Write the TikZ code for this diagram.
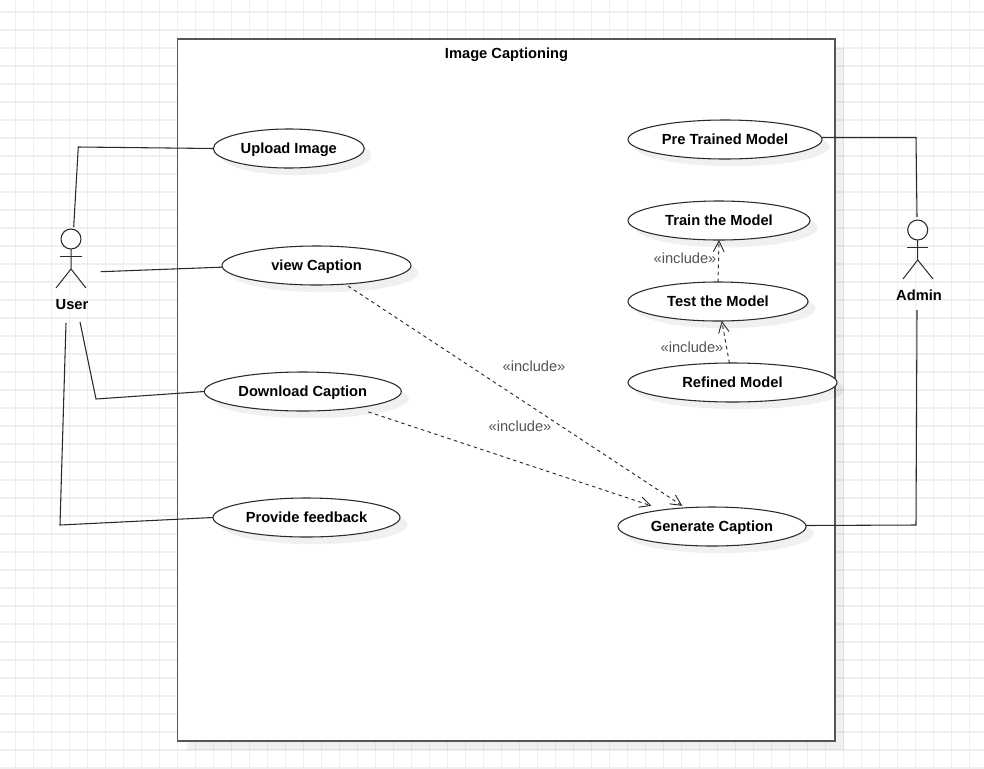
\documentclass[tikz,border=0pt]{standalone}
\usepackage{fontspec}
\setmainfont{Liberation Sans}
\usetikzlibrary{shapes.geometric,shadows,arrows.meta}
\definecolor{gridc}{HTML}{EFEFEF}
\definecolor{linec}{HTML}{2A2A2A}
\definecolor{boxc}{HTML}{555555}
\definecolor{labelc}{HTML}{555555}
\tikzset{
  x=0.75pt,y=-0.75pt,
  gridline/.style={gridc,line width=1.2pt},
  softshadow/.style={drop shadow={shadow xshift=5.6pt,shadow yshift=-5.4pt,opacity=0.06,fill=black}},
  boxshadow/.style={drop shadow={shadow xshift=6.75pt,shadow yshift=-6.75pt,opacity=0.06,fill=black}},
  usecase/.style={ellipse,draw=linec,fill=white,line width=0.8pt,inner sep=0pt,outer sep=0pt,minimum height=29.25pt,text height=7.5pt,text depth=0pt,font=\bfseries\fontsize{11pt}{13pt}\selectfont,softshadow},
  systembox/.style={rectangle,draw=boxc,fill=white,line width=1.1pt,inner sep=0pt,outer sep=0pt,minimum width=493pt,minimum height=526.5pt,boxshadow},
  boxtitle/.style={font=\bfseries\fontsize{11pt}{13pt}\selectfont,text height=7.9pt,text depth=0pt,inner sep=0pt},
  actorhead/.style={circle,draw=linec,fill=white,line width=0.8pt,inner sep=0pt,outer sep=0pt,minimum size=15pt},
  actorname/.style={font=\bfseries\fontsize{11pt}{13pt}\selectfont,text height=7.9pt,text depth=0pt,inner sep=0pt},
  limb/.style={linec,line width=0.75pt},
  assoc/.style={linec,line width=0.8pt},
  incl/.style={linec,line width=0.7pt,dash pattern=on 2.6pt off 2.6pt,-{Straight Barb[length=8pt,width=8pt,line width=0.7pt]}},
  incllabel/.style={labelc,font=\fontsize{11pt}{13pt}\selectfont,inner sep=0pt},
}
\begin{document}
\begin{tikzpicture}
\useasboundingbox (0,0) rectangle (984,768);
% grid
\foreach \gx in {15.5,33.5,...,984} {\draw[gridline] (\gx,0) -- (\gx,768);}
\foreach \gy in {12,30,...,768} {\draw[gridline] (0,\gy) -- (984,\gy);}
% system boundary
\node[systembox] (sys) at (506.2,390.2) {};
\node[boxtitle] (title) at (506.5,53) {Image Captioning};
% use cases
\node[usecase,minimum width=113.25pt] (upload) at (288.8,148.5) {Upload Image};
\node[usecase,minimum width=141.75pt] (view) at (316.5,265.5) {view Caption};
\node[usecase,minimum width=147.75pt] (download) at (302.8,391.5) {Download Caption};
\node[usecase,minimum width=140.25pt] (feedback) at (306.5,517.5) {Provide feedback};
\node[usecase,minimum width=145.5pt] (pretrained) at (725,139.5) {Pre Trained Model};
\node[usecase,minimum width=136.5pt] (train) at (719,220.5) {Train the Model};
\node[usecase,minimum width=135pt] (test) at (718,301.5) {Test the Model};
\node[usecase,minimum width=156.75pt] (refined) at (732.5,382.5) {Refined Model};
\node[usecase,minimum width=141pt] (generate) at (712,526.5) {Generate Caption};
% actors
\node[actorhead] (userhead) at (71,239) {};
\draw[limb] (userhead.south) -- (71,269) -- (56,288);
\draw[limb] (71,269) -- (86,288);
\draw[limb] (60,256) -- (82,256);
\node[actorname] (user) at (72,304) {User};
\node[actorhead] (adminhead) at (917.7,230) {};
\draw[limb] (adminhead.south) -- (917.7,260) -- (903,279);
\draw[limb] (917.7,260) -- (933,279);
\draw[limb] (907,247.5) -- (928,247.5);
\node[actorname] (admin) at (919,295) {Admin};
% free ends of the associations beside the actors
\coordinate (u1) at (73.7,227);
\coordinate (u2) at (100.7,271.7);
\coordinate (u3) at (80,322);
\coordinate (u4) at (66,323);
\coordinate (a1) at (917,217);
\coordinate (a2) at (917,310);
% associations
\draw[assoc] (u1) -- (78.3,147) -- (upload.west);
\draw[assoc] (u2) -- (view.181.5);
\draw[assoc] (u3) -- (96,399) -- (download.west);
\draw[assoc] (u4) -- (60,525) -- (feedback.west);
\draw[assoc] (pretrained.east) ++(0,-2) -- (916,137.5) -- (a1);
\draw[assoc] (generate.east) ++(0,-1) -- (916,525) -- (a2);
% includes
\draw[incl,shorten <=2.7pt,shorten >=2.7pt] (view.-33) -- (generate.145.6);
\draw[incl,shorten <=9.5pt,shorten >=9.5pt] (download.-17.4) -- (generate.161.4);
\draw[incl] (test.90) -- (train.south);
\draw[incl] (refined.99.3) -- (test.-79);
\node[incllabel] (l1) at (534,366) {«include»};
\node[incllabel] (l2) at (520,426) {«include»};
\node[incllabel] (l3) at (685,258) {«include»};
\node[incllabel] (l4) at (692,347) {«include»};
\end{tikzpicture}
\end{document}
